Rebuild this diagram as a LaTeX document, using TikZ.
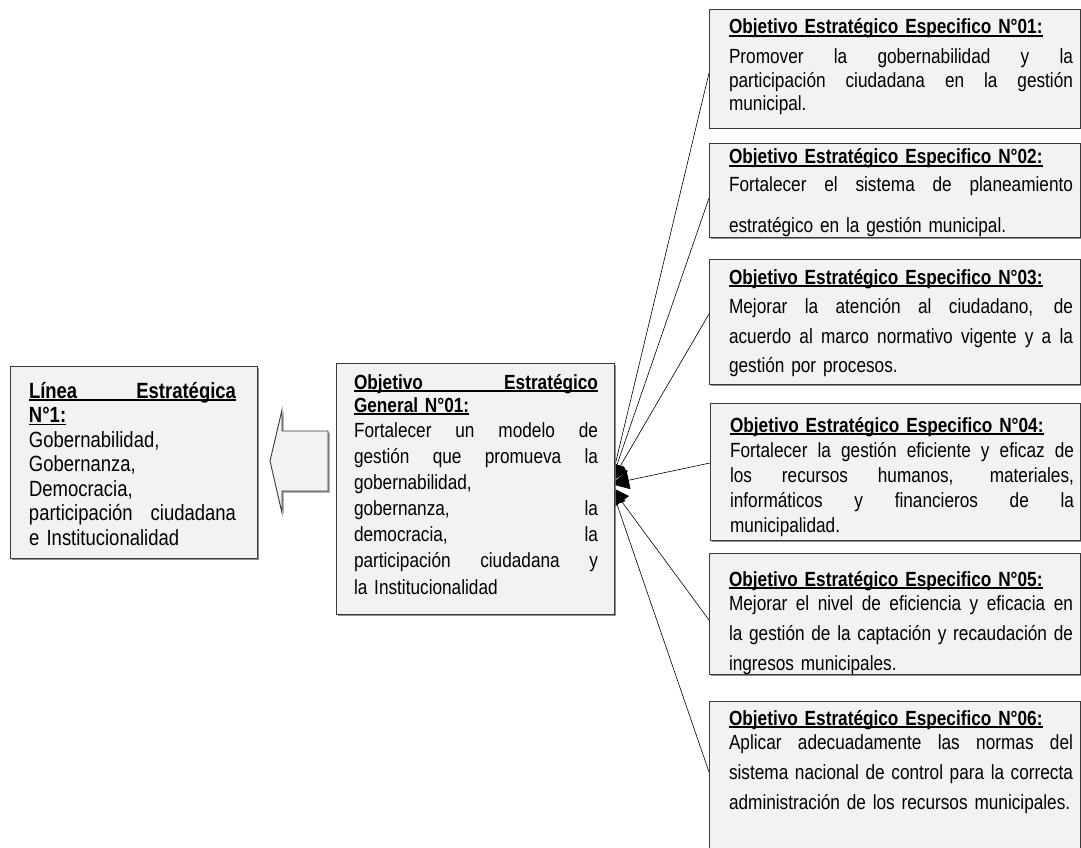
\documentclass[tikz,border=0pt]{standalone}
\usepackage{fontspec}
\setmainfont{Liberation Sans}[FakeStretch=0.84]
\usetikzlibrary{arrows.meta,shadows,backgrounds}
\definecolor{boxfill}{HTML}{F2F2F2}
\definecolor{boxline}{HTML}{3A3A3A}
\newcommand\Str{\rule{0pt}{18pt}}
\newcommand\ulw[1]{\setbox0\hbox{#1}\rlap{\rule[-2.6pt]{\wd0}{1.3pt}}\box0}
\newcommand\LJ[1]{\noindent\makebox[\hsize][s]{\spaceskip=0pt\xspaceskip=0pt\Str#1}\par}
\newcommand\LF[1]{\noindent\mbox{\Str#1}\par}
\newcommand\UJ[1]{\noindent\ulw{\makebox[\hsize][s]{\spaceskip=0pt\xspaceskip=0pt\Str\bfseries #1}}\par}
\newcommand\UF[1]{\noindent\ulw{\Str\bfseries #1}\par}
\newcommand\SK[1]{\vskip #1pt\relax}
\newcommand\bodyfont{\fontsize{20.5pt}{0pt}\selectfont\baselineskip=0pt\lineskip=0pt\lineskiplimit=-1000pt\parskip=0pt\parindent=0pt}
\newcommand\leftfont{\fontsize{22pt}{0pt}\selectfont\baselineskip=0pt\lineskip=0pt\lineskiplimit=-1000pt\parskip=0pt\parindent=0pt}
\tikzset{
  box/.style={draw=boxline, fill=boxfill, line width=0.9pt, inner sep=0pt, outer sep=0pt, anchor=north west,
    drop shadow={shadow xshift=1.5pt, shadow yshift=-1.5pt, fill=black!55, opacity=0.8}},
  arrowshape/.style={draw=boxline, fill=boxfill, line width=0.9pt,
    drop shadow={shadow xshift=1.5pt, shadow yshift=-1.5pt, fill=black!55, opacity=0.8}},
  txt/.style={anchor=north west, inner sep=0pt, outer sep=0pt, text width=#1, align=left, font=\bodyfont},
  conn/.style={draw=black, line width=0.6pt, -{Triangle[length=18pt,width=18pt]}}
}
\begin{document}
\begin{tikzpicture}[x=1pt,y=-1pt]
\useasboundingbox (0,0) rectangle (1081,848);
\clip (0,0) rectangle (1081,848);

% left box
\node[box, minimum width=247pt, minimum height=192pt] (lin) at (10,366) {};
\node[txt=207pt, font=\leftfont] (lint) at (29,380) {%
\UJ{Línea Estratégica}\SK{24.5}
\UF{N°1:}\SK{24.5}
\LF{Gobernabilidad,}\SK{24.5}
\LF{Gobernanza,}\SK{24.5}
\LF{Democracia,}\SK{24.5}
\LJ{participación ciudadana}\SK{24.5}
\LF{e Institucionalidad}};

% block arrow
\draw[arrowshape] (270,461) -- (282,410) -- (282,431) -- (328,431) -- (328,491) -- (282,491) -- (282,513) -- cycle;

% middle box
\node[box, minimum width=278pt, minimum height=251pt] (gen) at (336,363) {};
\node[txt=244pt] (gent) at (354,371) {%
\UJ{Objetivo Estratégico}\SK{23}
\UF{General N°01:}\SK{25}
\LJ{Fortalecer un modelo de}\SK{26}
\LJ{gestión que promueva la}\SK{26}
\LF{gobernabilidad,}\SK{26}
\LJ{gobernanza, la}\SK{26}
\LJ{democracia, la}\SK{26}
\LJ{participación ciudadana y}\SK{27}
\LF{la Institucionalidad}};

% right boxes
\node[box, minimum width=371pt, minimum height=119pt] (b1) at (709,9) {};
\begin{scope}
\clip ([xshift=1pt,yshift=-1pt]b1.north west) rectangle ([xshift=-1pt,yshift=1pt]b1.south east);
\node[txt=344pt] (b1t) at (729,16) {%
\UF{Objetivo Estratégico Especifico N°01:}\SK{30}
\LJ{Promover la gobernabilidad y la}\SK{24}
\LJ{participación ciudadana en la gestión}\SK{23}
\LF{municipal.}};
\end{scope}

\node[box, minimum width=371pt, minimum height=94pt] (b2) at (709,143) {};
\begin{scope}
\clip ([xshift=1pt,yshift=-1pt]b2.north west) rectangle ([xshift=-1pt,yshift=1pt]b2.south east);
\node[txt=344pt] (b2t) at (729,146) {%
\UF{Objetivo Estratégico Especifico N°02:}\SK{28}
\LJ{Fortalecer el sistema de planeamiento}\SK{40}
\LF{estratégico en la gestión municipal.}};
\end{scope}

\node[box, minimum width=371pt, minimum height=125pt] (b3) at (709,259) {};
\begin{scope}
\clip ([xshift=1pt,yshift=-1pt]b3.north west) rectangle ([xshift=-1pt,yshift=1pt]b3.south east);
\node[txt=344pt] (b3t) at (729,266) {%
\UF{Objetivo Estratégico Especifico N°03:}\SK{29}
\LJ{Mejorar la atención al ciudadano, de}\SK{30}
\LJ{acuerdo al marco normativo vigente y a la}\SK{29}
\LF{gestión por procesos.}};
\end{scope}

\node[box, minimum width=370pt, minimum height=137pt] (b4) at (710,403) {};
\begin{scope}
\clip ([xshift=1pt,yshift=-1pt]b4.north west) rectangle ([xshift=-1pt,yshift=1pt]b4.south east);
\node[txt=344pt] (b4t) at (730,414) {%
\UF{Objetivo Estratégico Especifico N°04:}\SK{25}
\LJ{Fortalecer la gestión eficiente y eficaz de}\SK{25}
\LJ{los recursos humanos, materiales,}\SK{25}
\LJ{informáticos y financieros de la}\SK{25}
\LF{municipalidad.}};
\end{scope}

\node[box, minimum width=371pt, minimum height=121pt] (b5) at (709,553) {};
\begin{scope}
\clip ([xshift=1pt,yshift=-1pt]b5.north west) rectangle ([xshift=-1pt,yshift=1pt]b5.south east);
\node[txt=344pt] (b5t) at (729,568) {%
\UF{Objetivo Estratégico Especifico N°05:}\SK{24}
\LJ{Mejorar el nivel de eficiencia y eficacia en}\SK{30}
\LJ{la gestión de la captación y recaudación de}\SK{30}
\LF{ingresos municipales.}};
\end{scope}

\node[box, minimum width=371pt, minimum height=160pt] (b6) at (709,701) {};
\begin{scope}
\clip ([xshift=1pt,yshift=-1pt]b6.north west) rectangle ([xshift=-1pt,yshift=1pt]b6.south east);
\node[txt=344pt] (b6t) at (729,707) {%
\UF{Objetivo Estratégico Especifico N°06:}\SK{24}
\LJ{Aplicar adecuadamente las normas del}\SK{30}
\LJ{sistema nacional de control para la correcta}\SK{30}
\LF{administración de los recursos municipales.}};
\end{scope}

% connectors (behind boxes)
\begin{pgfonlayer}{background}
\fill[white] (0,0) rectangle (1081,848);
\draw[conn] ([yshift=-64pt]b1.north west) -- ([xshift=-3pt,yshift=-119pt]gen.north east);
\draw[conn] ([yshift=-55pt]b2.north west) -- ([xshift=-3pt,yshift=-119pt]gen.north east);
\draw[conn] ([yshift=-55pt]b3.north west) -- ([xshift=-3pt,yshift=-119pt]gen.north east);
\draw[conn] ([yshift=-60pt]b4.north west) -- ([xshift=-3pt,yshift=-121pt]gen.north east);
\draw[conn] ([yshift=-67pt]b5.north west) -- ([xshift=-3pt,yshift=-124pt]gen.north east);
\draw[conn] ([yshift=-71pt]b6.north west) -- ([xshift=-3pt,yshift=-124pt]gen.north east);
\end{pgfonlayer}
\end{tikzpicture}
\end{document}
